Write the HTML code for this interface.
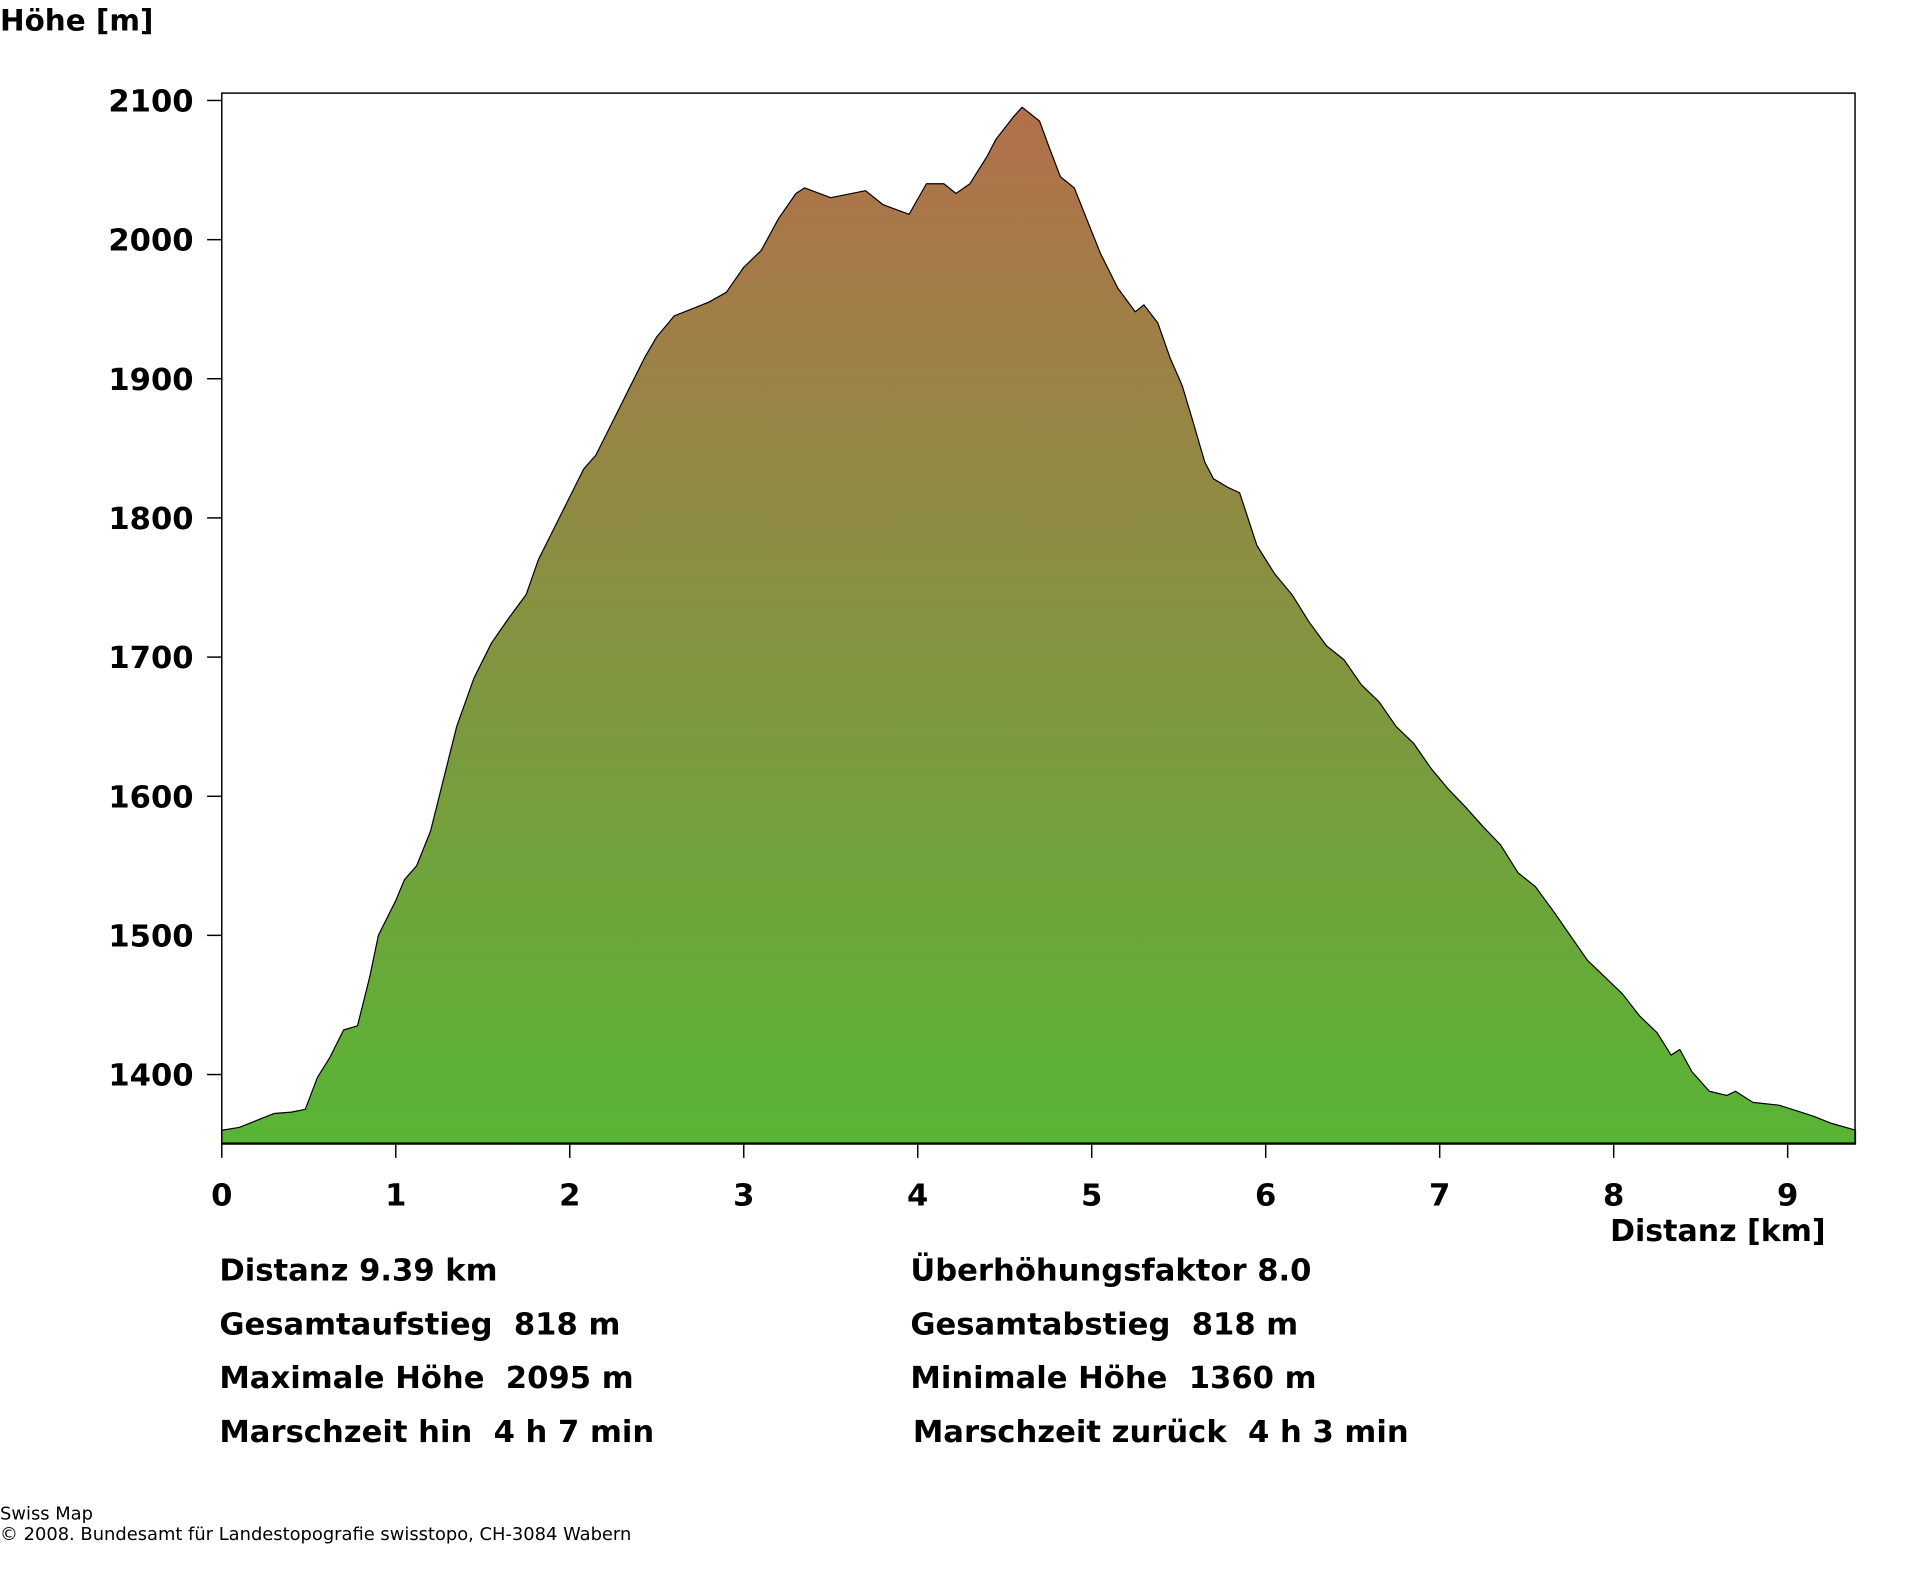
<!DOCTYPE html>
<html><head><meta charset="utf-8"><style>
html,body{margin:0;padding:0;background:#fff;}
svg{display:block;}
text{font-family:"DejaVu Sans","Liberation Sans",sans-serif;font-weight:bold;fill:#000;white-space:pre;}
</style></head><body>
<svg width="1920" height="1572" viewBox="0 0 1567 1283" xmlns="http://www.w3.org/2000/svg">
<defs>
<linearGradient id="g" x1="0" y1="0" x2="0" y2="1">
<stop offset="0" stop-color="#58b535"/>
<stop offset="1" stop-color="#b2704b"/>
</linearGradient>
</defs>
<text x="0" y="25" font-size="24">Höhe [m]</text>
<g transform="matrix(142 0 0 -1.136 181 2467.4)">
<path fill="url(#g)" stroke="#000" stroke-width="1.2" vector-effect="non-scaling-stroke" stroke-linejoin="round"
d="M0,1350 L0,1360 0.1,1362 0.2,1367 0.3,1372 0.4,1373 0.48,1375 0.55,1398 0.62,1412 0.7,1432 0.78,1435 0.85,1470 0.9,1500 1.0,1525 1.05,1540 1.12,1550 1.2,1575 1.27,1610 1.35,1650 1.45,1685 1.55,1710 1.65,1728 1.75,1745 1.82,1770 1.9,1790 2.0,1815 2.08,1835 2.15,1845 2.25,1870 2.35,1895 2.43,1915 2.5,1930 2.6,1945 2.7,1950 2.8,1955 2.9,1962 3.0,1980 3.1,1992 3.2,2015 3.3,2033 3.35,2037 3.5,2030 3.7,2035 3.8,2025 3.95,2018 4.05,2040 4.15,2040 4.22,2033 4.3,2040 4.4,2060 4.45,2072 4.55,2088 4.6,2095 4.7,2085 4.75,2068 4.82,2045 4.9,2037 4.97,2015 5.05,1990 5.15,1965 5.25,1948 5.3,1953 5.38,1940 5.45,1915 5.52,1895 5.58,1870 5.65,1840 5.7,1828 5.78,1822 5.85,1818 5.95,1780 6.05,1760 6.15,1745 6.25,1725 6.35,1708 6.45,1698 6.55,1680 6.65,1668 6.75,1650 6.85,1638 6.95,1620 7.05,1605 7.15,1592 7.25,1578 7.35,1565 7.45,1545 7.55,1535 7.65,1518 7.75,1500 7.85,1482 7.95,1470 8.05,1458 8.15,1442 8.25,1430 8.33,1414 8.38,1418 8.45,1402 8.55,1388 8.65,1385 8.7,1388 8.8,1380 8.95,1378 9.05,1374 9.15,1370 9.25,1365 9.39,1360 9.39,1350 Z"/>
</g>
<rect x="181" y="76" width="1333" height="857" fill="none" stroke="#000" stroke-width="1.2"/>
<g stroke="#000" stroke-width="1.2">
<line x1="169" y1="82" x2="181" y2="82"/><line x1="169" y1="195.6" x2="181" y2="195.6"/>
<line x1="169" y1="309.1" x2="181" y2="309.1"/><line x1="169" y1="422.7" x2="181" y2="422.7"/>
<line x1="169" y1="536.3" x2="181" y2="536.3"/><line x1="169" y1="649.9" x2="181" y2="649.9"/>
<line x1="169" y1="763.4" x2="181" y2="763.4"/><line x1="169" y1="877" x2="181" y2="877"/>
<line x1="181" y1="933" x2="181" y2="945"/><line x1="323" y1="933" x2="323" y2="945"/>
<line x1="465" y1="933" x2="465" y2="945"/><line x1="607" y1="933" x2="607" y2="945"/>
<line x1="749" y1="933" x2="749" y2="945"/><line x1="891" y1="933" x2="891" y2="945"/>
<line x1="1033" y1="933" x2="1033" y2="945"/><line x1="1175" y1="933" x2="1175" y2="945"/>
<line x1="1317" y1="933" x2="1317" y2="945"/><line x1="1459" y1="933" x2="1459" y2="945"/>
</g>
<g font-size="25" text-anchor="end">
<text x="158" y="91">2100</text><text x="158" y="204.6">2000</text>
<text x="158" y="318.1">1900</text><text x="158" y="431.7">1800</text>
<text x="158" y="545.3">1700</text><text x="158" y="658.9">1600</text>
<text x="158" y="772.4">1500</text><text x="158" y="886">1400</text>
</g>
<g font-size="25" text-anchor="middle">
<text x="181" y="984">0</text><text x="323" y="984">1</text><text x="465" y="984">2</text>
<text x="607" y="984">3</text><text x="749" y="984">4</text><text x="891" y="984">5</text>
<text x="1033" y="984">6</text><text x="1175" y="984">7</text><text x="1317" y="984">8</text>
<text x="1459" y="984">9</text>
</g>
<text x="1490" y="1013" font-size="24.5" text-anchor="end">Distanz [km]</text>
<g font-size="25">
<text x="179" y="1045">Distanz 9.39 km</text>
<text x="179" y="1089">Gesamtaufstieg  818 m</text>
<text x="179" y="1133">Maximale Höhe  2095 m</text>
<text x="179" y="1177">Marschzeit hin  4 h 7 min</text>
<text x="743" y="1045">Überhöhungsfaktor 8.0</text>
<text x="743" y="1089">Gesamtabstieg  818 m</text>
<text x="743" y="1133">Minimale Höhe  1360 m</text>
<text x="745" y="1177">Marschzeit zurück  4 h 3 min</text>
</g>
<g font-size="14.6">
<text x="0" y="1240" style="font-weight:normal">Swiss Map</text>
<text x="0" y="1257" style="font-weight:normal">© 2008. Bundesamt für Landestopografie swisstopo, CH-3084 Wabern</text>
</g>
</svg>
</body></html>
